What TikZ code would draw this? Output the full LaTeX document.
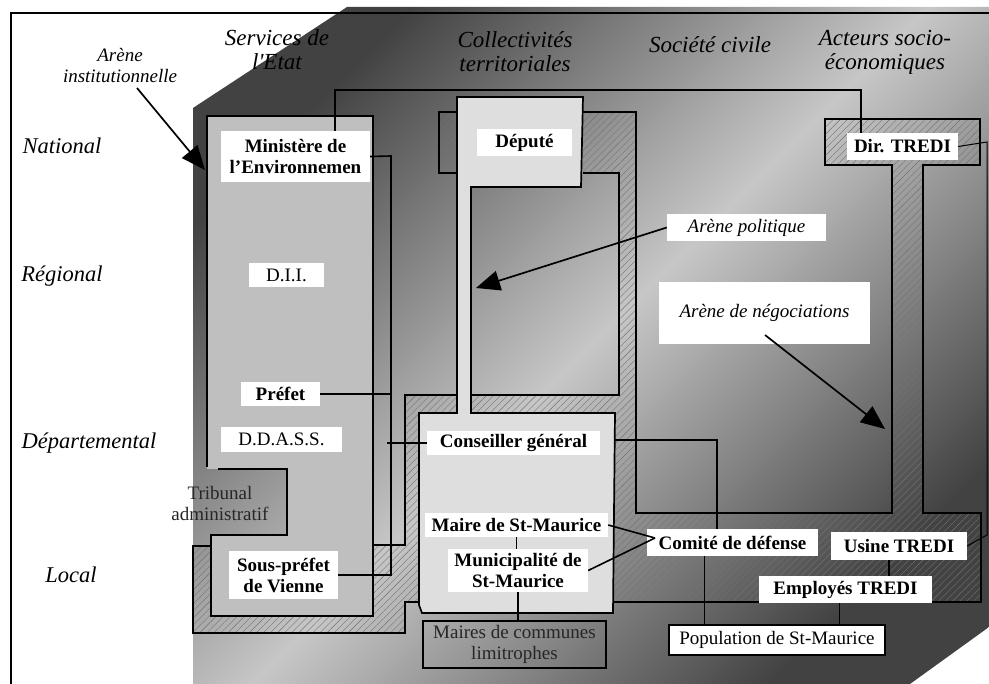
\documentclass[tikz,border=0pt]{standalone}
\usepackage{fontspec}
\setmainfont{Liberation Serif}
\usepackage{xcolor}
\usetikzlibrary{positioning}
\usetikzlibrary{shapes, arrows.meta, patterns.meta}
\newcommand{\txtsize}{\fontsize{19}{21}\selectfont}
\tikzstyle{link} = [draw, line width=1.6pt]
\tikzstyle{pointer} = [draw, line width=1.7pt, -{Triangle[length=24pt,width=20pt]}]
\tikzstyle{wall} = [draw, line width=1.7pt]
\tikzstyle{hatch} = [pattern={Lines[angle=45,distance=5pt,line width=0.4pt]}, pattern color=black!55]
\tikzstyle{lab} = [fill=white, inner sep=0pt, font=\txtsize\bfseries, align=center]
\tikzstyle{plain} = [fill=white, inner sep=0pt, align=center]
\tikzstyle{arena} = [fill=white, inner sep=0pt, font=\txtsize\itshape, align=center]
\tikzstyle{head} = [font=\fontsize{23}{24}\selectfont\itshape, align=center]
\tikzstyle{level} = [font=\fontsize{22.5}{24}\selectfont\itshape]

\begin{document}
\begin{tikzpicture}[x=1pt, y=-1pt, every node/.style={font=\txtsize}]
			\useasboundingbox (0,0) rectangle (989,684);
			
			% background and frame
			\begin{scope}[y=1pt]
				\shade[top color=black!74, bottom color=black!74, middle color=black!22, shading angle=45]
					(193,-108) -- (347,-7) -- (989,-7) -- (989,-627) -- (910,-684) -- (193,-684) -- cycle;
			\end{scope}
			\draw[line width=1.5pt] (11,684) -- (11,13) -- (989,13);
			
			% hatched arenas
			\fill[hatch] (193,546) rectangle (211,633) (211,616) rectangle (405,633) (373,545) rectangle (405,616)
				(405,395) rectangle (419,602) (405,395) rectangle (636,413) (619,112) rectangle (636,513)
				(583,112) rectangle (619,173) (439,112) rectangle (457,173) (600,413) rectangle (636,513)
				(600,513) rectangle (981,602) (892,165) rectangle (923,513) (825,119) rectangle (980,165);
			
			% services de l'Etat column
			\fill[black!25] (207,116) -- (373,116) -- (373,616) -- (211,616) -- (211,535) -- (287,535) -- (287,469) -- (207,469) -- cycle;
			\draw[wall] (207,467) -- (207,116) -- (373,116) -- (373,616) -- (211,616) -- (211,535) -- (287,535) -- (287,469) -- (218,469);
			
			% depute and conseiller
			\filldraw[wall, fill=black!13] (471,413) -- (615,413) -- (613,613) -- (422,613) -- (419,605) -- (419,413) -- (457,413)
				-- (457,97) -- (583,97) -- (581,187) -- (471,187) -- cycle;
			
			\draw[wall] (211,546) -- (193,546) -- (193,633) -- (405,633) -- (405,602) -- (419,602);
			\draw[wall] (373,545) -- (405,545) -- (405,395) -- (457,395);
			\draw[wall] (457,112) -- (439,112) -- (439,173) -- (457,173);
			\draw[wall] (583,173) -- (619,173) -- (619,395) -- (471,395);
			\draw[wall] (583,112) -- (636,112) -- (636,513) -- (892,513) -- (892,165) -- (825,165) -- (825,119) -- (980,119)
				-- (980,165) -- (923,165) -- (923,513) -- (981,513) -- (981,602) -- (613,602);
			
			% headings
			\node[head] (serv) at (277,50) {Services de\\l\textquotesingle Etat};
			\node[head] (coll) at (515,52) {Collectivités\\territoriales};
			\node[head] (soc) at (710,45) {Société civile};
			\node[head] (act) at (885,52) {Acteurs socio-\\économiques};
			\node[level] (nat) at (62,146) {National};
			\node[level] (reg) at (62,276) {Régional};
			\node[level] (dep) at (89,443) {Départemental};
			\node[level] (loc) at (71,575) {Local};
			
			% actors
			\node[lab, minimum width=149pt, minimum height=51pt] (minist) at (295.5,156.5) {Ministère de\\l’Environnemen};
			\node[plain, minimum width=75pt, minimum height=24pt] (dii) at (286.5,275) {D.I.I.};
			\node[lab, minimum width=79pt, minimum height=24pt] (prefet) at (280.5,394) {Préfet};
			\node[plain, minimum width=121pt, minimum height=25pt] (ddass) at (281.5,439.5) {D.D.A.S.S.};
			\node[lab, minimum width=109pt, minimum height=48pt] (spref) at (283.5,575) {Sous-préfet\\de Vienne};
			\node[align=center, text=black!85] (tribunal) at (220,504) {Tribunal\\administratif};
			\node[lab, minimum width=95pt, minimum height=27pt] (depute) at (524.5,142.5) {Député};
			\node[lab, minimum width=173pt, minimum height=24pt] (conseil) at (513.5,443) {Conseiller général};
			\node[lab, minimum width=183pt, minimum height=24pt] (maire) at (516.5,525) {Maire de St-Maurice};
			\node[lab, minimum width=140pt, minimum height=43pt] (munic) at (518,570.5) {Municipalité de\\St-Maurice};
			\node[draw, line width=1.6pt, inner sep=0pt, align=center, text=black!85, minimum width=183pt, minimum height=47pt] (mairescom) at (514.5,644.5) {Maires de communes\\limitrophes};
			\node[lab, minimum width=171pt, minimum height=27pt] (comite) at (732.5,542.5) {Comité de défense};
			\node[lab, minimum width=136pt, minimum height=28pt] (usine) at (899,546) {Usine TREDI};
			\node[lab, minimum width=173pt, minimum height=27pt] (employes) at (845.5,589.5) {Employés TREDI};
			\node[plain, draw, line width=1.6pt, minimum width=216pt, minimum height=30pt] (popul) at (777,640) {Population de St-Maurice};
			\node[lab, minimum width=111pt, minimum height=27pt] (dirtredi) at (902.5,146.5) {Dir. TREDI};
			
			% arenas
			\node[arena, minimum width=159pt, minimum height=27pt] (arpol) at (746.5,227.5) {Arène politique};
			\node[arena, minimum width=211pt, minimum height=62pt] (arneg) at (764.5,313) {Arène de négociations};
			\node[align=center, font=\txtsize\itshape] (arinst) at (120,66) {Arène\\institutionnelle};
			
			% links
			\coordinate (natl) at (335,90);
			\coordinate (natr) at (861,90);
			\draw[link] (minist.north -| natl) -- (natl) -- (natr) -- (dirtredi.north -| natr);
			\coordinate (prefx) at (391,156);
			\coordinate (prefb) at (391,576);
			\draw[link] (minist.east) -- (prefx) -- (prefb);
			\draw[link] (prefet.east) -- (prefet.east -| prefx);
			\draw[link] (spref.east) -- (spref.east -| prefx);
			\draw[link] ([xshift=-4pt]conseil.west -| prefx) -- (conseil.west);
			\coordinate (cgr) at (615,440);
			\coordinate (cgd) at (717,440);
			\draw[link] (cgr) -- (cgd) -- (cgd |- comite.north);
			\coordinate (cmeet) at (655,538);
			\draw[link] (maire.east) -- (cmeet);
			\draw[link] (munic.east) -- (cmeet);
			\draw[link] (maire.south) -- (maire.south |- munic.north);
			\draw[link] (munic.south) -- (munic.south |- mairescom.north);
			\draw[link] ([xshift=-28pt]comite.south) -- ([xshift=-28pt]comite.south |- popul.north);
			\draw[link] ([xshift=-6pt]employes.south) -- ([xshift=-6pt]employes.south |- popul.north);
			\draw[link] ([xshift=-10pt]usine.south) -- ([xshift=-10pt]usine.south |- employes.north);
			\coordinate (edgea) at (987,142);
			\coordinate (edgeb) at (987,535);
			\draw[link, line width=1pt] (dirtredi.east) -- (edgea) -- (edgeb) -- (usine.east);
			
			% arrows
			\coordinate (inststart) at (137,88);
			\coordinate (insttip) at (205,170);
			\draw[pointer] (inststart) -- (insttip);
			\coordinate (poltip) at (476,288);
			\draw[pointer] (arpol.west) -- (poltip);
			\coordinate (negstart) at (765,335);
			\coordinate (negtip) at (885,429);
			\draw[pointer] (negstart) -- (negtip);
			
		\end{tikzpicture}
\end{document}
